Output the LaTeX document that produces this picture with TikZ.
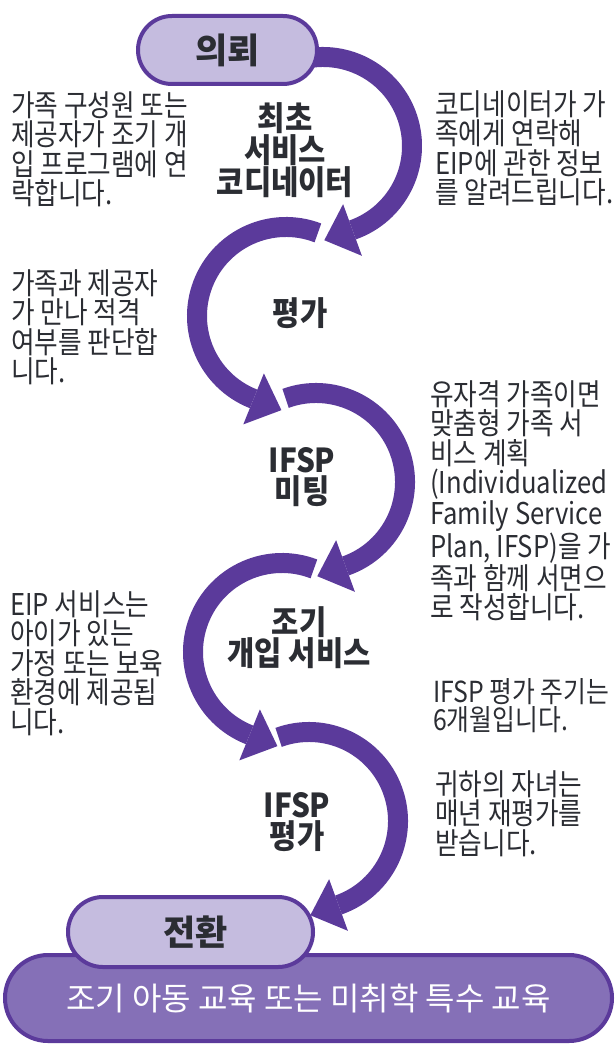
\documentclass[tikz,border=0pt]{standalone}
\usepackage{fontspec}
\usepackage{xcolor}
\usepackage{tikz}
\usetikzlibrary{calc,arrows.meta}
\newfontfamily\sidefont{Noto Sans CJK KR}[FakeStretch=0.855]
\newfontfamily\labfont{Noto Sans CJK KR}[FakeStretch=0.9]
\newfontfamily\pillfont{Noto Sans CJK KR}
\definecolor{band}{HTML}{5B3A9B}
\definecolor{lilac}{HTML}{C5BCDF}
\definecolor{basefill}{HTML}{8570B7}
\definecolor{ink}{HTML}{2B2D33}
\tikzset{
  flow/.style={draw=band, line width=20pt, -{Triangle[width=55pt,length=30pt,line width=0pt]}},
  pill/.style={draw=band, line width=4pt, fill=lilac, text=ink, inner sep=0pt,
    font=\pillfont\bfseries\fontsize{35}{40}\selectfont},
  basepill/.style={draw=band, line width=4pt, fill=basefill, text=white, inner sep=0pt,
    font=\pillfont\fontsize{32}{36}\selectfont},
  lab/.style={text=ink, align=center, inner sep=0pt,
    font=\labfont\bfseries\fontsize{33}{31}\selectfont},
  note/.style={text=ink, align=left, anchor=north west, inner sep=0pt,
    font=\sidefont\fontsize{30}{29.5}\selectfont}
}
\begin{document}
\begin{tikzpicture}[x=1pt,y=1pt]
  \useasboundingbox (0,0) rectangle (615,-1046);

  \def\r{89}
  \coordinate (c1) at (323,-146);
  \coordinate (c2) at (286,-316);
  \coordinate (c3) at (316,-482);
  \coordinate (c4) at (282,-652);
  \coordinate (c5) at (309,-821);

  % the winding path, one turn per step
  \draw[flow] ($(c1)+(105:\r)$) arc[start angle=105, end angle=-70, radius=\r] -- ++(-160:31);
  \draw[flow] ($(c2)+(69:\r)$) arc[start angle=69, end angle=248, radius=\r] -- ++(-22:31);
  \draw[flow] ($(c3)+(110:\r)$) arc[start angle=110, end angle=-70, radius=\r] -- ++(-160:31);
  \draw[flow] ($(c4)+(69:\r)$) arc[start angle=69, end angle=248, radius=\r] -- ++(-22:31);
  \draw[flow] ($(c5)+(110:\r)$) arc[start angle=110, end angle=-70, radius=\r] -- ++(-160:31);

  % start and end
  \node[pill, minimum width=179pt, minimum height=68pt, rounded corners=33.9pt] (refer) at (227.5,-50) {의뢰};
  \node[basepill, minimum width=607pt, minimum height=86pt, rounded corners=42.9pt] (school) at (308.5,-998) {조기 아동 교육 또는 미취학 특수 교육};
  \node[pill, minimum width=245pt, minimum height=70pt, rounded corners=34.9pt] (trans) at (190.5,-932) {\hspace{10pt}전환};

  % steps
  \node[lab] (coord) at (285,-150) {최초\\서비스\\코디네이터};
  \node[lab] (eval) at (300,-313) {평가};
  \node[lab] (meet) at (302,-477) {IFSP\\미팅};
  \node[lab] (early) at (299,-638) {조기\\개입 서비스};
  \node[lab] (review) at (297,-822) {IFSP\\평가};

  % notes
  \node[note] (n1) at (11,-91) {가족 구성원 또는\\제공자가 조기 개\\입 프로그램에 연\\락합니다.};
  \node[note] (n2) at (435,-90) {코디네이터가 가\\족에게 연락해\\EIP에 관한 정보\\를 알려드립니다.};
  \node[note] (n3) at (11,-269) {가족과 제공자\\가 만나 적격\\여부를 판단합\\니다.};
  \node[note] (n4) at (430,-380) {유자격 가족이면\\맞춤형 가족 서\\비스 계획\\(Individualized\\Family Service\\Plan, IFSP)을 가\\족과 함께 서면으\\로 작성합니다.};
  \node[note] (n5) at (10,-590) {EIP 서비스는\\아이가 있는\\가정 또는 보육\\환경에 제공됩\\니다.};
  \node[note, font=\sidefont\fontsize{29}{28.5}\selectfont] (n6) at (433,-678) {IFSP 평가 주기는\\6개월입니다.};
  \node[note] (n7) at (435,-770) {귀하의 자녀는\\매년 재평가를\\받습니다.};
\end{tikzpicture}
\end{document}
